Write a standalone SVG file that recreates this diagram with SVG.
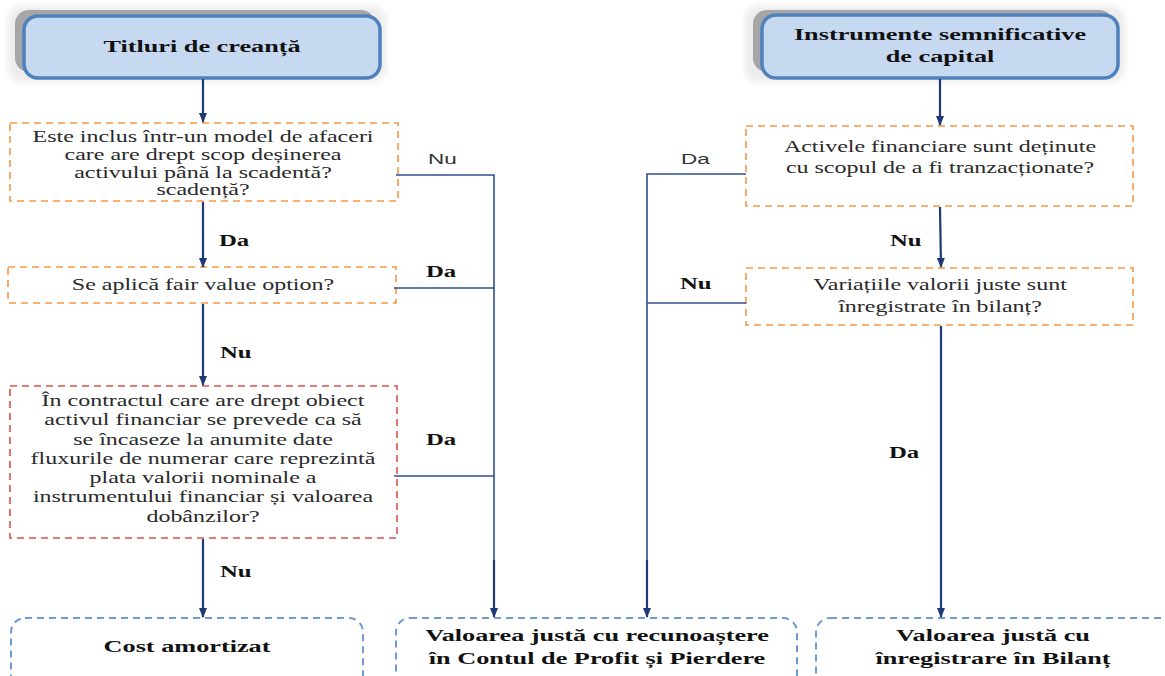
<svg xmlns="http://www.w3.org/2000/svg" width="1165" height="676" viewBox="0 0 1165 676">
<defs>
<marker id="ah" markerWidth="10" markerHeight="8" refX="9" refY="4" orient="auto" markerUnits="userSpaceOnUse">
<path d="M0,0 L10,4 L0,8 Z" fill="#1f3876"/>
</marker>
<filter id="blur" x="-10%" y="-20%" width="120%" height="140%"><feGaussianBlur stdDeviation="3"/></filter>
<style>
.hdr{fill:#c6d9f1;stroke:#4f81bd;stroke-width:3.5}
.shd{fill:#a6a6a6}
.glow{fill:#ececec;filter:url(#blur)}
.q{fill:#fff;stroke:#f79646;stroke-width:1.6;stroke-dasharray:7,5}
.qr{fill:#fff;stroke:#d9534f;stroke-width:1.6;stroke-dasharray:7,5}
.res{fill:#fff;stroke:#6f9bd3;stroke-width:2;stroke-dasharray:7,5}
.t{font-family:"Liberation Serif","Times New Roman",serif;font-size:16px;fill:#2a2a2a;text-anchor:middle}
.tb{font-family:"Liberation Serif","Times New Roman",serif;font-size:17.5px;font-weight:bold;fill:#111;text-anchor:middle}
.lb{font-family:"Liberation Serif","Times New Roman",serif;font-size:16.5px;font-weight:bold;fill:#111}
.ls{font-family:"Liberation Sans",Arial,sans-serif;font-size:15px;fill:#333}
.arr{stroke:#1f3876;stroke-width:2.2;fill:none}
.ln{stroke:#2f4f94;stroke-width:1.6;fill:none}
</style>
</defs>
<rect width="1165" height="676" fill="#fff"/>

<g id="n-titluri">
<rect class="glow" x="8" y="6" width="378" height="76" rx="14"/>
<rect class="shd" x="15" y="10" width="360" height="62" rx="14"/>
<rect class="hdr" x="24" y="16" width="356" height="62" rx="14"/>
<g transform="translate(202 0) scale(1.5 1)">
<text class="tb" x="0" y="52">Titluri de creanță</text>
</g>
</g>

<g id="n-instrumente">
<rect class="glow" x="745" y="6" width="380" height="76" rx="14"/>
<rect class="shd" x="753" y="10" width="360" height="62" rx="14"/>
<rect class="hdr" x="762" y="15" width="356" height="63" rx="14"/>
<g transform="translate(940 0) scale(1.5 1)">
<text class="tb" x="0" y="40">Instrumente semnificative</text>
<text class="tb" x="0" y="62">de capital</text>
</g>
</g>

<g id="n-q1">
<rect class="q" x="10" y="123" width="388" height="78"/>
<g transform="translate(203 0) scale(1.5 1)">
<text class="t" x="0" y="142">Este inclus într-un model de afaceri</text>
<text class="t" x="0" y="160">care are drept scop deșinerea</text>
<text class="t" x="0" y="178">activului până la scadentă?</text>
<text class="t" x="0" y="195">scadență?</text>
</g>
</g>

<g id="n-q2">
<rect class="q" x="8" y="267" width="388" height="36"/>
<g transform="translate(203 0) scale(1.5 1)">
<text class="t" x="0" y="290">Se aplică fair value option?</text>
</g>
</g>

<g id="n-q3">
<rect class="qr" x="10" y="386" width="387" height="152"/>
<g transform="translate(203 0) scale(1.5 1)">
<text class="t" x="0" y="406">În contractul care are drept obiect</text>
<text class="t" x="0" y="425">activul financiar se prevede ca să</text>
<text class="t" x="0" y="445">se încaseze la anumite date</text>
<text class="t" x="0" y="464">fluxurile de numerar care reprezintă</text>
<text class="t" x="0" y="483">plata valorii nominale a</text>
<text class="t" x="0" y="502">instrumentului financiar și valoarea</text>
<text class="t" x="0" y="522">dobânzilor?</text>
</g>
</g>

<g id="n-r1">
<rect class="q" x="746" y="126" width="387" height="80"/>
<g transform="translate(940 0) scale(1.5 1)">
<text class="t" x="0" y="152">Activele financiare sunt deținute</text>
<text class="t" x="0" y="173">cu scopul de a fi tranzacționate?</text>
</g>
</g>

<g id="n-r2">
<rect class="q" x="746" y="268" width="387" height="57"/>
<g transform="translate(940 0) scale(1.5 1)">
<text class="t" x="0" y="290">Variațiile valorii juste sunt</text>
<text class="t" x="0" y="312">înregistrate în bilanț?</text>
</g>
</g>

<g id="n-cost">
<rect class="res" x="11" y="618" width="352" height="80" rx="14"/>
<g transform="translate(187 0) scale(1.5 1)">
<text class="tb" x="0" y="652">Cost amortizat</text>
</g>
</g>

<g id="n-fvpl">
<rect class="res" x="396" y="618" width="401" height="80" rx="14"/>
<g transform="translate(597 0) scale(1.5 1)">
<text class="tb" x="0" y="641">Valoarea justă cu recunoaștere</text>
<text class="tb" x="0" y="664">în Contul de Profit și Pierdere</text>
</g>
</g>

<g id="n-fvbs">
<rect class="res" x="816" y="618" width="360" height="80" rx="14"/>
<g transform="translate(993 0) scale(1.5 1)">
<text class="tb" x="0" y="641">Valoarea justă cu</text>
<text class="tb" x="0" y="664">înregistrare în Bilanț</text>
</g>
</g>

<g id="connectors">
<line class="arr" x1="203" y1="79" x2="203" y2="122" marker-end="url(#ah)"/>
<line class="arr" x1="203" y1="202" x2="203" y2="267" marker-end="url(#ah)"/>
<line class="arr" x1="203" y1="304" x2="203" y2="385" marker-end="url(#ah)"/>
<line class="arr" x1="203" y1="539" x2="203" y2="617" marker-end="url(#ah)"/>
<line class="arr" x1="940" y1="79" x2="940" y2="125" marker-end="url(#ah)"/>
<line class="arr" x1="940" y1="207" x2="941" y2="267" marker-end="url(#ah)"/>
<line class="arr" x1="941" y1="326" x2="941" y2="617" marker-end="url(#ah)"/>
<polyline class="ln" points="396,175 494,175 494,612"/>
<line class="arr" x1="494" y1="560" x2="494" y2="617" marker-end="url(#ah)"/>
<line class="ln" x1="394" y1="288" x2="494" y2="288"/>
<line class="ln" x1="394" y1="476" x2="494" y2="476"/>
<polyline class="ln" points="746,174 647,174 647,612"/>
<line class="arr" x1="647" y1="560" x2="647" y2="617" marker-end="url(#ah)"/>
<line class="ln" x1="647" y1="303" x2="746" y2="303"/>
<g transform="translate(428 0) scale(1.5 1)"><text class="ls" x="0" y="164">Nu</text></g>
<g transform="translate(681 0) scale(1.5 1)"><text class="ls" x="0" y="164">Da</text></g>
<g transform="translate(219 0) scale(1.5 1)"><text class="lb" x="0" y="246">Da</text></g>
<g transform="translate(426 0) scale(1.5 1)"><text class="lb" x="0" y="277">Da</text></g>
<g transform="translate(220 0) scale(1.5 1)"><text class="lb" x="0" y="358">Nu</text></g>
<g transform="translate(426 0) scale(1.5 1)"><text class="lb" x="0" y="445">Da</text></g>
<g transform="translate(220 0) scale(1.5 1)"><text class="lb" x="0" y="577">Nu</text></g>
<g transform="translate(680 0) scale(1.5 1)"><text class="lb" x="0" y="289">Nu</text></g>
<g transform="translate(890 0) scale(1.5 1)"><text class="lb" x="0" y="246">Nu</text></g>
<g transform="translate(889 0) scale(1.5 1)"><text class="lb" x="0" y="458">Da</text></g>
</g>
</svg>
